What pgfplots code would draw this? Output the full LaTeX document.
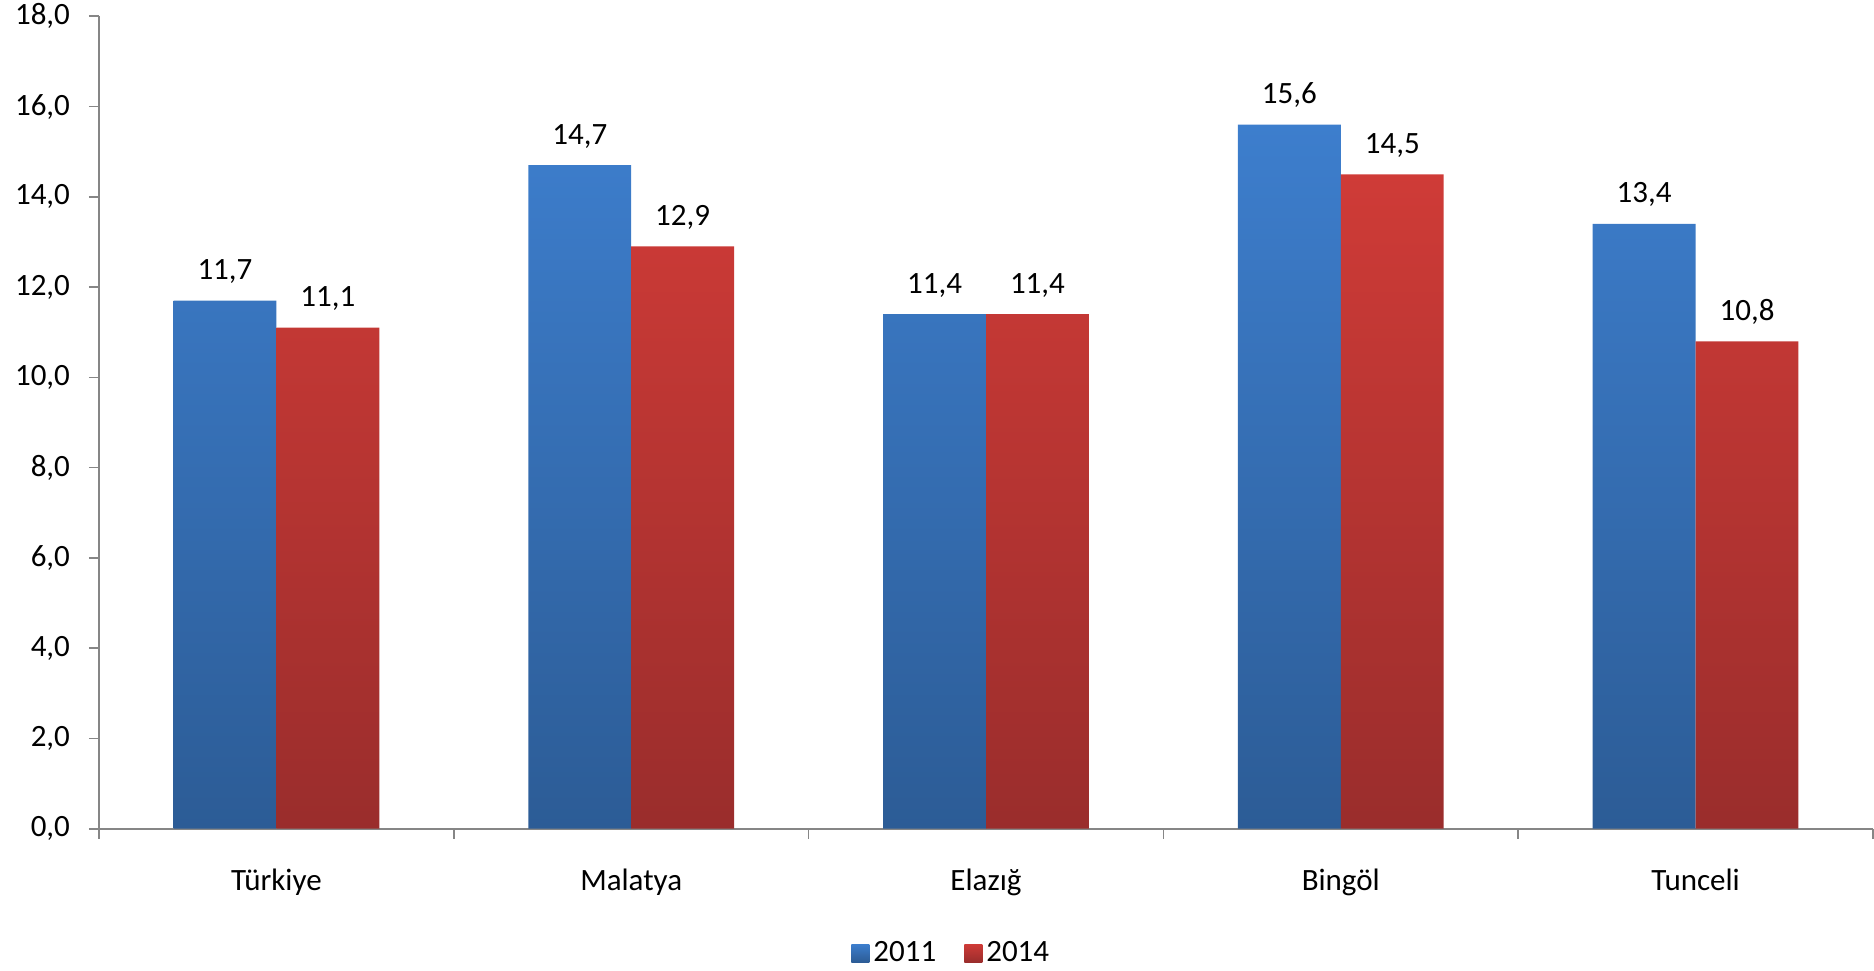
\documentclass[border=0pt]{standalone}
\usepackage{pgfplots}
\pgfplotsset{compat=1.18}
\usepackage{fontspec}
\setmainfont{Carlito}
\definecolor{bluetop}{HTML}{3D7ECD}
\definecolor{bluebot}{HTML}{2C5C96}
\definecolor{redtop}{HTML}{CF3B37}
\definecolor{redbot}{HTML}{9A2D2C}
\definecolor{axgray}{HTML}{868686}
\begin{document}
\begin{tikzpicture}[font=\fontsize{15.5pt}{18pt}\selectfont]
\useasboundingbox (0,0) rectangle (937pt,485pt);
\begin{axis}[
  at={(49.5pt,70.65pt)}, anchor=south west,
  scale only axis, width=887pt, height=406.2pt,
  ybar=0pt, bar width=0.29,
  xmin=-0.5, xmax=4.5, ymin=0, ymax=18,
  axis x line*=bottom, axis y line*=left,
  axis line style={axgray, line width=0.8pt, -},
  tick style={axgray, line width=0.8pt},
  tick align=outside,
  xtick={0,1,2,3,4},
  xticklabels={Türkiye,Malatya,Elazığ,Bingöl,Tunceli},
  major x tick style={draw=none},
  minor xtick={-0.5,0.5,1.5,2.5,3.5,4.5},
  minor tick length=5pt,
  major tick length=5pt,
  ytick={0,2,...,18},
  xticklabel style={yshift=-11.5pt},
  yticklabel style={xshift=-6pt},
  /pgf/number format/.cd, fixed, fixed zerofill, precision=1, use comma, assume math mode=true,
  /pgfplots/.cd,
  nodes near coords,
  every node near coord/.append style={anchor=south, yshift=5pt, font=\fontsize{15.5pt}{18pt}\selectfont},
  legend columns=2,
  legend style={draw=none, at={(0.481,-0.153)}, anchor=center, font=\fontsize{15.5pt}{18pt}\selectfont,
    /tikz/every even column/.append style={column sep=12pt}},
  legend image code/.code={\path[#1, draw=none] (-2.5pt,-4.5pt) rectangle (6.5pt,4.5pt);},
]
\addplot[draw=none, top color=bluetop, bottom color=bluebot] coordinates {(0,11.7) (1,14.7) (2,11.4) (3,15.6) (4,13.4)};
\addplot[draw=none, top color=redtop, bottom color=redbot] coordinates {(0,11.1) (1,12.9) (2,11.4) (3,14.5) (4,10.8)};
\legend{2011,2014}
\end{axis}
\end{tikzpicture}
\end{document}
